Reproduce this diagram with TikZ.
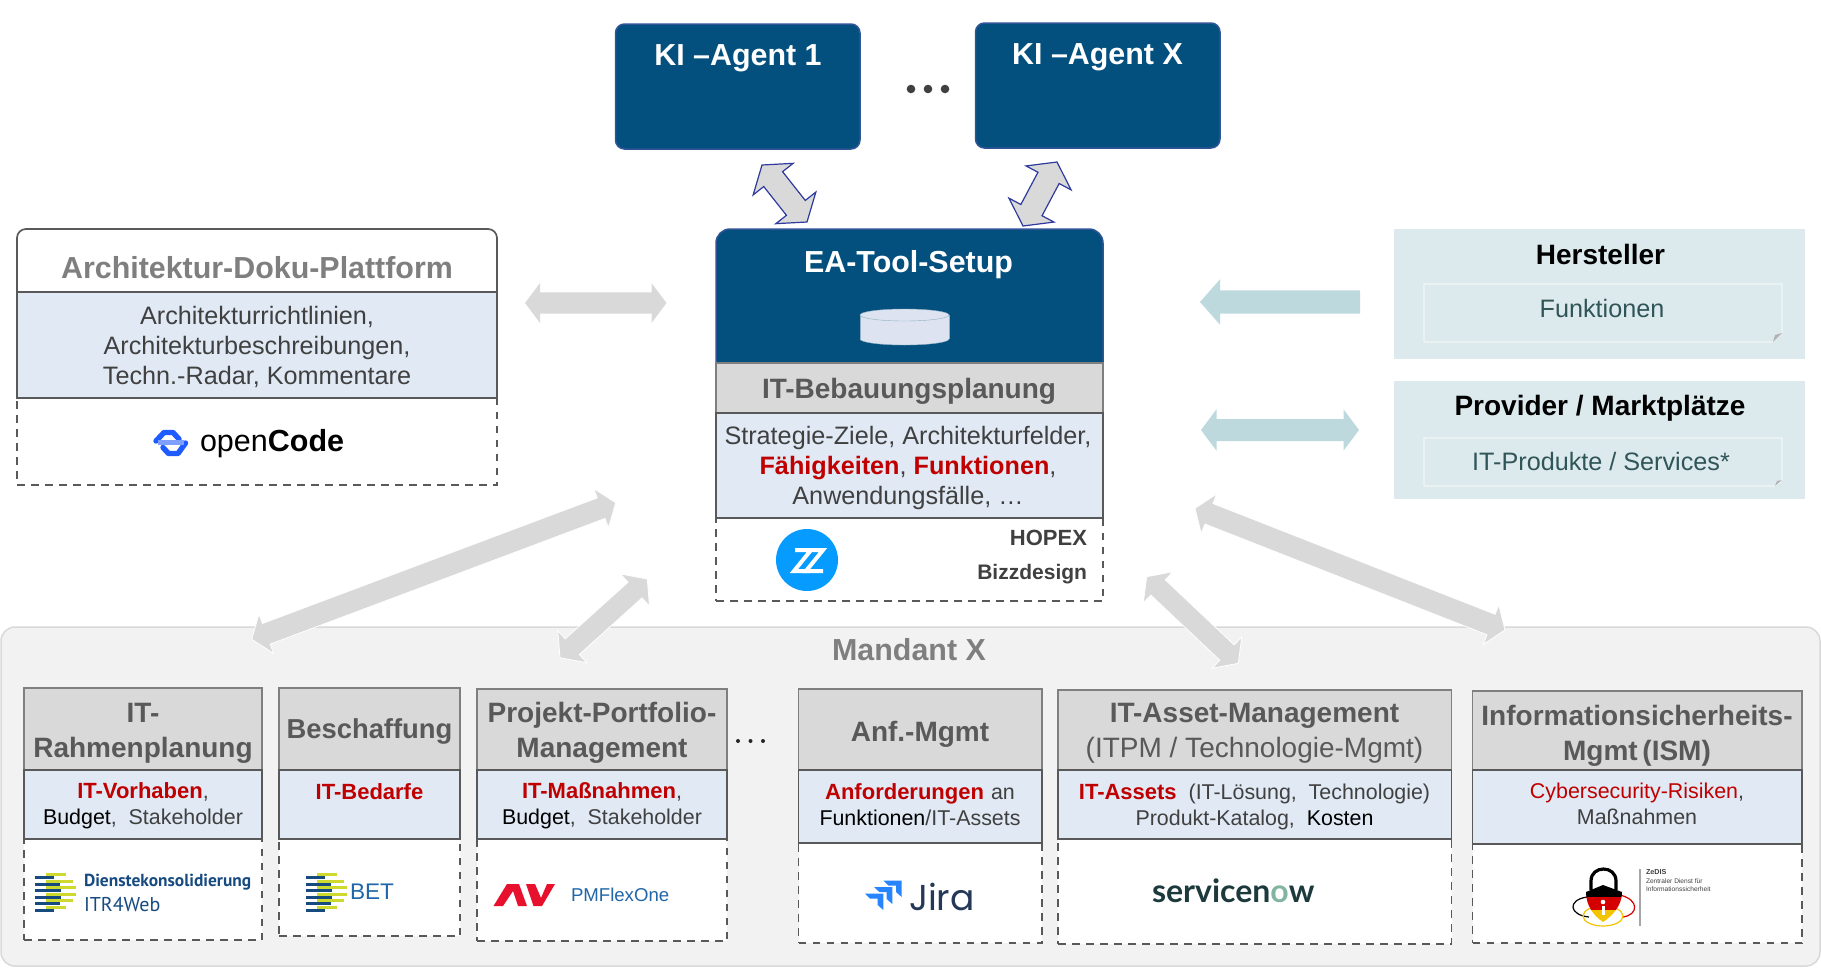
\documentclass[tikz,border=0pt]{standalone}
\usepackage{fontspec}
\setmainfont{Liberation Sans}
\newfontfamily\poppins{Poppins}
\newfontfamily\lato{Lato}
\newfontfamily\ptsans{PT Sans}
\usetikzlibrary{calc}
\definecolor{navy}{HTML}{03507F}
\definecolor{navyedge}{HTML}{2F5597}
\definecolor{hdgray}{HTML}{D9D9D9}
\definecolor{edgegray}{HTML}{595959}
\definecolor{edgelight}{HTML}{7F7F7F}
\definecolor{paleblue}{HTML}{E0E9F4}
\definecolor{dred}{HTML}{C00000}
\definecolor{txt}{HTML}{404040}
\definecolor{teal}{HTML}{DDEAED}
\definecolor{tealarrow}{HTML}{BDD9DD}
\definecolor{tealtxt}{HTML}{2F5558}
\definecolor{arrowedge}{HTML}{2E3A9E}
\definecolor{panel}{HTML}{F2F2F2}
\definecolor{dkstripe}{HTML}{174B80}
\definecolor{ylstripe}{HTML}{CDD92F}
\definecolor{cylfill}{HTML}{DDE3F0}
\definecolor{cyledge}{HTML}{8FB0C4}
\definecolor{ocblue}{HTML}{1F5CFF}
\definecolor{oclight}{HTML}{7F9FFF}
\definecolor{bzblue}{HTML}{069CFF}
\definecolor{logoblue}{HTML}{2166A8}
\definecolor{avred}{HTML}{E8112D}
\definecolor{jblue}{HTML}{2684FF}
\definecolor{jtext}{HTML}{253858}
\definecolor{sntext}{HTML}{1C3A3C}
\definecolor{sngreen}{HTML}{81B5A1}
\definecolor{degold}{HTML}{F2C500}
\definecolor{dered}{HTML}{D40000}
\newcommand{\rd}[1]{{\fontsize{22}{26}\selectfont\textcolor{dred}{\bfseries #1}}}
\newcommand{\blk}[1]{\textcolor{black}{#1}}
\newcommand{\dblarrow}[6]{%
  \pgfmathsetlengthmacro\dw{veclen(#6,#5)}%
  \pgfmathsetlengthmacro\ds{veclen(#6,#4)}%
  \pgfmathsetmacro\aw{atan(#5/#6)}%
  \pgfmathsetmacro\as{atan(#4/#6)}%
  \draw[#1] (#2) -- ($(#2)!\dw!\aw:(#3)$) -- ($(#2)!\ds!\as:(#3)$)
    -- ($(#3)!\ds!-\as:(#2)$) -- ($(#3)!\dw!-\aw:(#2)$) -- (#3)
    -- ($(#3)!\dw!\aw:(#2)$) -- ($(#3)!\ds!\as:(#2)$)
    -- ($(#2)!\ds!-\as:(#3)$) -- ($(#2)!\dw!-\aw:(#3)$) -- cycle;}
\newcommand{\onearrow}[6]{%
  \pgfmathsetlengthmacro\dw{veclen(#6,#5)}%
  \pgfmathsetlengthmacro\ds{veclen(#6,#4)}%
  \pgfmathsetmacro\aw{atan(#5/#6)}%
  \pgfmathsetmacro\as{atan(#4/#6)}%
  \draw[#1] (#2) -- ($(#2)!\dw!\aw:(#3)$) -- ($(#2)!\ds!\as:(#3)$)
    -- ($(#3)!#4pt!-90:(#2)$) -- ($(#3)!#4pt!90:(#2)$)
    -- ($(#2)!\ds!-\as:(#3)$) -- ($(#2)!\dw!-\aw:(#3)$) -- cycle;}
\newcommand{\bx}[6]{\node[#1,anchor=north west,minimum width={#5-#3},minimum height={#6-#4}] (#2) at (#3,#4) {};}
\newcommand{\stripes}[2]{%
  \begin{scope}[shift={(#1,#2)}]
  \foreach \yy/\xe in {1/31,7.5/38,14/41,20.5/41,27/38,33.5/31}
    \fill[ylstripe] (11,\yy) rectangle (\xe,\yy+3.3);
  \foreach \yy/\xe in {4/19,10.5/25,17/26,23.5/26,30/25,36.5/19}
    \fill[dkstripe] (0,\yy) rectangle (\xe,\yy+3.3);
  \end{scope}}
\tikzset{
  x=1pt,y=-1pt,
  box/.style={rectangle,inner sep=0pt,outer sep=0pt},
  hdbox/.style={box,fill=hdgray,draw=edgelight,line width=1.6pt},
  bluebox/.style={box,fill=paleblue,draw=edgegray,line width=1.8pt},
  dashbox/.style={box,fill=white,draw=edgegray,line width=1.4pt,dash pattern=on 7.5pt off 6.5pt},
  agent/.style={box,fill=navy,draw=navyedge,line width=1.5pt,rounded corners=9pt},
  tealbox/.style={box,fill=teal},
  lbl/.style={inner sep=0pt,outer sep=0pt,align=center},
  hd/.style={lbl,font=\fontsize{28}{35}\selectfont\bfseries,text=edgegray},
  hdlarge/.style={lbl,font=\fontsize{30.4}{36}\selectfont\bfseries},
  bodyl/.style={lbl,font=\fontsize{25.2}{30}\selectfont,text=txt},
  bodys/.style={lbl,font=\fontsize{21.4}{26}\selectfont,text=txt},
  grayarrow/.style={fill=hdgray,draw=white,line width=0.8pt},
  edgedarrow/.style={fill=hdgray,draw=arrowedge,line width=1.2pt},
  tarrow/.style={fill=tealarrow,draw=none},
}
\begin{document}
\begin{tikzpicture}
\useasboundingbox (0,0) rectangle (1821,967);
% Mandant panel
\node[box,anchor=north west,fill=panel,draw=hdgray,line width=1.5pt,rounded corners=14pt,minimum width=1819,minimum height=339] (mandant) at (1,627) {};
\node[hdlarge,text=edgelight] (mandantlbl) at (909,650) {Mandant X};

% KI agents
\bx{agent}{ki1}{615.5}{24}{860}{149}
\bx{agent}{kix}{975.5}{23}{1220}{148}
\node[hdlarge,text=white] (ki1lbl) at (738,58.5) {KI –Agent 1};
\node[hdlarge,text=white] (kixlbl) at (1097.5,57.5) {KI –Agent X};
\foreach \xx in {911,928,945} \fill[txt] (\xx,89) circle[radius=4.3pt];

% Architektur box
\draw[fill=white,draw=edgegray,line width=1.7pt] (17,292) [rounded corners=9pt]-- (17,229) -- (497,229) [rounded corners=0pt]-- (497,292) -- cycle;
\bx{dashbox}{archtool}{17}{398}{497}{485}
\bx{bluebox}{archbody}{17}{292}{497}{398}
\node[hdlarge,text=edgelight] (archlbl) at (257,268) {Architektur-Doku-Plattform};
\node[bodyl] (archtxt) at (257,347) {Architekturrichtlinien,\\Architekturbeschreibungen,\\Techn.-Radar, Kommentare};
% openCode logo
\draw[ocblue,line width=5.4pt,line cap=round,line join=round] (156,441) -- (164,432.5) -- (173,432.5) -- (179,439);
\draw[ocblue,line width=5.4pt,line cap=round,line join=round] (163,447.5) -- (168.5,453.5) -- (178,453.5) -- (185.5,443);
\fill[oclight] (158,439.5) rectangle (183.5,445);
\node[lbl,anchor=west,font=\fontsize{30.5}{32}\selectfont,text=black] (opencode) at (200,444) {open\textbf{Code}};

% EA tool
\bx{dashbox}{eatool}{716}{518}{1103}{601}
\draw[fill=navy,draw=navyedge,line width=1.5pt] (716,363) [rounded corners=14pt]-- (716,229) -- (1103,229) [rounded corners=0pt]-- (1103,363) -- cycle;
\bx{hdbox}{eahd}{716}{363}{1103}{413}
\bx{bluebox}{eabody}{716}{413}{1103}{518}
\node[hdlarge,text=white] (ealbl) at (908.5,264.5) {EA-Tool-Setup};
% cylinder
\draw[fill=cylfill,draw=cyledge] (904.5,339) ellipse[x radius=44.5pt,y radius=6pt];
\fill[cylfill] (860,315) rectangle (949,339);
\draw[cyledge] (860,315) -- (860,339) (949,315) -- (949,339);
\draw[fill=cylfill,draw=cyledge] (904.5,315) ellipse[x radius=44.5pt,y radius=6pt];
\node[hd] (bebau) at (909,391.5) {IT-Bebauungsplanung};
\node[bodyl] (eatxt) at (908,468) {Strategie-Ziele, Architekturfelder,\\\textcolor{dred}{\bfseries Fähigkeiten}, \textcolor{dred}{\bfseries Funktionen},\\Anwendungsfälle, …};
\fill[bzblue] (807,560) circle[radius=31pt];
\draw[white,line width=4pt,line join=miter] (795,550) -- (811,550) -- (794,571) -- (810,571);
\draw[white,line width=4pt,line join=miter] (809,550) -- (823,550) -- (806,571) -- (823,571);
\node[lbl,anchor=east,font=\fontsize{22}{26}\selectfont\bfseries,text=txt] (hopex) at (1087,538) {HOPEX};
\node[lbl,anchor=east,font=\fontsize{21}{26}\selectfont\bfseries,text=txt] (bizz) at (1087,574) {Bizzdesign};

% Hersteller / Provider
\bx{tealbox}{herst}{1394}{229}{1805}{359}
\bx{tealbox}{prov}{1394}{381}{1805}{499}
\draw[white,line width=0.9pt] (1424,284) -- (1782,284) -- (1782,333) -- (1773,342) -- (1424,342) -- cycle;
\fill[gray!60] (1782,333) -- (1775,335) -- (1773,342) -- cycle;
\draw[white,line width=0.9pt] (1424,438) -- (1782,438) -- (1782,480) -- (1775,486) -- (1424,486) -- cycle;
\fill[gray!60] (1782,480) -- (1777,481) -- (1775,486) -- cycle;
\node[hd,text=black] (herstlbl) at (1600.5,254) {Hersteller};
\node[hd,text=black] (provlbl) at (1600,408) {Provider / Marktplätze};
\node[bodyl,text=tealtxt] (funkt) at (1602,308) {Funktionen};
\node[bodyl,text=tealtxt] (itprod) at (1601,461) {IT-Produkte / Services*};

% Bottom columns
\bx{dashbox}{c1tool}{24}{839}{262}{940}
\bx{hdbox}{c1hd}{24}{688}{262}{770}
\bx{bluebox}{c1body}{24}{770}{262}{839}
\node[hd] (c1lbl) at (143,733.5) {IT-\\Rahmenplanung};
\node[bodys] (c1txt) at (143,806) {\rd{IT-Vorhaben},\\\blk{Budget},\ \ Stakeholder};

\bx{dashbox}{c2tool}{279}{839}{460}{936}
\bx{hdbox}{c2hd}{279}{688}{460}{770}
\bx{bluebox}{c2body}{279}{770}{460}{839}
\node[hd,font=\fontsize{27.4}{34}\selectfont\bfseries] (c2lbl) at (369.5,731.5) {Beschaffung};
\node[bodys] (c2txt) at (369.5,792) {\rd{IT-Bedarfe}};

\bx{dashbox}{c3tool}{477}{839}{727}{941}
\bx{hdbox}{c3hd}{477}{689}{727}{770}
\bx{bluebox}{c3body}{477}{770}{727}{839}
\node[hd] (c3lbl) at (602,733) {Projekt-Portfolio-\\Management};
\node[bodys] (c3txt) at (602,806) {\rd{IT-Maßnahmen},\\\blk{Budget},\ \ Stakeholder};

\foreach \xx in {738,750.5,763} \fill[black!85] (\xx,741) circle[radius=2pt];

\bx{dashbox}{c4tool}{798.5}{843}{1042}{943}
\bx{hdbox}{c4hd}{798.5}{689}{1042}{770}
\bx{bluebox}{c4body}{798.5}{770}{1042}{843}
\node[hd] (c4lbl) at (920,734) {Anf.-Mgmt};
\node[bodys] (c4txt) at (920,805) {\rd{Anforderungen}\hspace{7pt}an\\\blk{Funktionen}/IT-Assets};

\bx{dashbox}{c5tool}{1058}{839}{1451.5}{944}
\bx{hdbox}{c5hd}{1058}{690}{1451.5}{770}
\bx{bluebox}{c5body}{1058}{770}{1451.5}{839}
\node[hd] (c5lbl) at (1254.5,733.5) {IT-Asset-Management\\\mdseries(ITPM / Technologie-Mgmt)};
\node[bodys] (c5txt) at (1254.5,806.5) {\rd{IT-Assets}\ \ (IT-Lösung,\ \ Technologie)\\Produkt-Katalog,\ \ \blk{Kosten}};

\bx{dashbox}{c6tool}{1472.5}{844}{1802}{943}
\bx{hdbox}{c6hd}{1472.5}{691}{1802}{770}
\bx{bluebox}{c6body}{1472.5}{770}{1802}{844}
\node[hd] (c6lbl) at (1637,736) {Informationsicherheits-\\Mgmt\,(ISM)};
\node[bodys] (c6txt) at (1637,804) {\textcolor{dred}{Cybersecurity-Risiken},\\Maßnahmen};

% Logos in columns
\stripes{35}{872}
\node[lbl,anchor=west,font=\fontsize{17.4}{20}\selectfont\bfseries\ptsans,text=dkstripe] (dienst) at (84,882) {Dienstekonsolidierung};
\node[lbl,anchor=west,font=\fontsize{20}{22}\selectfont\ptsans,text=dkstripe] (itr) at (84,904) {ITR4Web};
\stripes{306}{872}
\node[lbl,anchor=west,font=\fontsize{22.6}{24}\selectfont,text=logoblue] (bet) at (350,892) {BET};
\fill[avred] (493.5,906) -- (507,884) -- (519,884) -- (527,906) -- (518,906) -- (513,891) -- (503,906) -- cycle;
\fill[avred] (526,884) -- (535,884) -- (541,898) -- (547,884) -- (555,884) -- (542,906) -- (533.5,906) -- cycle;
\node[lbl,anchor=west,font=\fontsize{18.6}{20}\selectfont,text=logoblue] (pm) at (571,895) {PMFlexOne};
% Jira
\fill[jblue] (883.3,880.5) -- (901.7,880.5) -- (901.7,897) -- (896,892) -- (896,885.5) -- (888.3,885.5) -- cycle;
\fill[jblue] (874,887) -- (892.3,887) -- (892.3,904) -- (886.7,899) -- (886.7,892) -- (879.3,892) -- cycle;
\fill[jblue] (865,893.5) -- (883.3,893.5) -- (883.3,910) -- (877.7,905) -- (877.7,898.5) -- (870,898.5) -- cycle;
\node[lbl,anchor=west,font=\fontsize{36}{38}\selectfont\poppins,text=jtext] (jira) at (909,897) {Jira};
% servicenow
\node[lbl,anchor=west,font=\fontsize{32}{34}\selectfont\lato\bfseries,text=sntext] (snow) at (1152,890.5) {servicen\textcolor{sngreen}{o}w};
% ZeDIS
\draw[black,line width=1.2pt] (1587,897) .. controls (1567,900) and (1569,915) .. (1589,917);
\draw[dered,line width=1.2pt] (1620,895) .. controls (1640,900) and (1638,915) .. (1623,917);
\draw[degold,line width=1.2pt] (1603,916) ellipse[x radius=20pt,y radius=10pt];
\draw[black,line width=3.2pt] (1591,890) -- (1591,881) .. controls (1591,865) and (1616,865) .. (1616,881) -- (1616,890);
\begin{scope}
\clip (1586,892) -- (1603,885) -- (1622,892) .. controls (1622,906) and (1612,916) .. (1603,922) .. controls (1594,916) and (1586,906) .. (1586,892) -- cycle;
\fill[black] (1580,880) rectangle (1630,897);
\fill[dered] (1580,897) rectangle (1630,910);
\fill[degold] (1580,910) rectangle (1630,925);
\end{scope}
\fill[white] (1603,902) circle[radius=2.3pt];
\fill[white] (1601.5,906) rectangle (1604.5,915);
\draw[gray!70,line width=1.2pt] (1640,869) -- (1640,926);
\node[lbl,anchor=west,font=\fontsize{7.2}{8}\selectfont\bfseries,text=txt] (zedis) at (1646,872) {ZeDIS};
\node[lbl,anchor=west,font=\fontsize{6.6}{8}\selectfont,text=txt] (zd1) at (1646,881) {Zentraler Dienst für};
\node[lbl,anchor=west,font=\fontsize{6.6}{8}\selectfont,text=txt] (zd2) at (1646,889) {Informationssicherheit};

% Block arrows
\coordinate (a1a) at (762,165); \coordinate (a1b) at (807,222);
\coordinate (a2a) at (1057,162); \coordinate (a2b) at (1023,226);
\coordinate (a3a) at (525,303); \coordinate (a3b) at (666.5,303);
\coordinate (a4a) at (615.7,502.7); \coordinate (a4b) at (251.7,639.3);
\coordinate (a5a) at (647.3,579); \coordinate (a5b) at (560,657.7);
\coordinate (a6a) at (1195,508.3); \coordinate (a6b) at (1505,630);
\coordinate (a7a) at (1146.7,576.7); \coordinate (a7b) at (1238.3,663.3);
\coordinate (a8a) at (1200,302); \coordinate (a8b) at (1360,302);
\coordinate (a9a) at (1201,430); \coordinate (a9b) at (1359,430);
\dblarrow{edgedarrow}{a1a}{a1b}{12}{25.5}{18}
\dblarrow{edgedarrow}{a2a}{a2b}{12}{25.5}{18}
\dblarrow{grayarrow,draw=none}{a3a}{a3b}{10.7}{20}{15}
\dblarrow{grayarrow}{a4a}{a4b}{11}{21}{15.6}
\dblarrow{grayarrow}{a5a}{a5b}{10.5}{21.6}{16.5}
\dblarrow{grayarrow}{a6a}{a6b}{11}{21.3}{15}
\dblarrow{grayarrow}{a7a}{a7b}{10.5}{21.5}{15.6}
\onearrow{tarrow}{a8a}{a8b}{11.7}{22.7}{20}
\dblarrow{tarrow}{a9a}{a9b}{11}{20.7}{15.5}
\end{tikzpicture}
\end{document}
